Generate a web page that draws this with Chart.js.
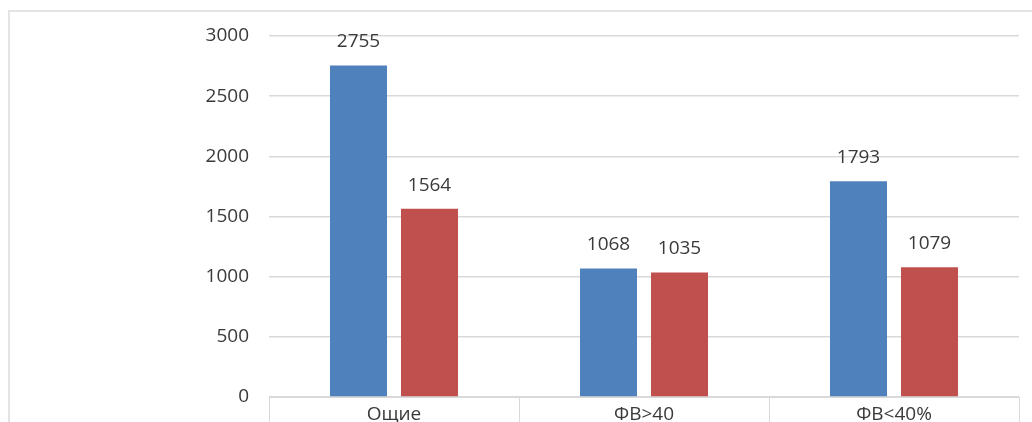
<!DOCTYPE html>
<html>
<head>
<meta charset="utf-8">
<script src="https://cdn.jsdelivr.net/npm/chart.js@4/dist/chart.umd.min.js"></script>
<style>
  html, body { margin: 0; padding: 0; background: #fff; overflow: hidden; }
  #wrap { position: relative; width: 1032px; height: 422px; }
  #frame { position: absolute; left: 8px; top: 10px; width: 1030px; height: 430px;
           border: 2px solid #e3e3e3; box-sizing: border-box; pointer-events: none; }
  canvas { position: absolute; left: 0; top: 0; }
</style>
</head>
<body>
<div id="wrap">
  <canvas id="chart" width="1032" height="422"></canvas>
  <div id="frame"></div>
</div>
<script>
// Categories and the two series
const categories = ['Ощие', 'ФВ>40', 'ФВ<40%'];
const seriesBlue = [2755, 1068, 1793];
const seriesRed = [1564, 1035, 1079];
const yTicks = [0, 500, 1000, 1500, 2000, 2500, 3000];

const FONT = "'Open Sans', 'Noto Sans', sans-serif";

// Writes each bar's value above it
const valueLabels = {
  id: 'valueLabels',
  afterDatasetsDraw(chart) {
    const ctx = chart.ctx;
    ctx.save();
    ctx.font = '19px ' + FONT;
    ctx.fillStyle = '#3a3a3a';
    ctx.textAlign = 'center';
    ctx.textBaseline = 'bottom';
    chart.data.datasets.forEach((ds, i) => {
      chart.getDatasetMeta(i).data.forEach((bar, j) => {
        ctx.fillText(String(ds.data[j]), bar.x, bar.y - 14);
      });
    });
    ctx.restore();
  }
};

new Chart(document.getElementById('chart'), {
  type: 'bar',
  data: {
    labels: categories,
    datasets: [
      { label: 'A', data: seriesBlue, backgroundColor: '#4F81BD' },
      { label: 'B', data: seriesRed, backgroundColor: '#C0504D' }
    ]
  },
  options: {
    responsive: false,
    animation: false,
    events: [],
    categoryPercentage: 0.568,
    barPercentage: 0.803,
    layout: { padding: { top: 36, right: 13, left: 0, bottom: 0 } },
    plugins: { legend: { display: false }, tooltip: { enabled: false } },
    scales: {
      x: {
        offset: true,
        grid: { offset: true, drawOnChartArea: false, drawTicks: true, tickLength: 30, color: '#d9d9d9', lineWidth: 1 },
        border: { display: true, color: '#d9d9d9', width: 1 },
        ticks: { font: { family: FONT, size: 19 }, color: '#3a3a3a', padding: -24 },
        afterFit(scale) { scale.height = 25; scale.paddingLeft = 0; scale.paddingRight = 0; }
      },
      y: {
        min: 0,
        max: 3000,
        afterBuildTicks(scale) { scale.ticks = yTicks.map(v => ({ value: v })); },
        grid: { color: '#d9d9d9', lineWidth: 1.5, drawTicks: false },
        border: { display: false },
        ticks: {
          font: { family: FONT, size: 19 }, color: '#3a3a3a', padding: 20,
          callback: v => String(v)
        },
        afterFit(scale) { scale.width = 269; scale.paddingTop = 0; scale.paddingBottom = 0; }
      }
    }
  },
  plugins: [valueLabels]
});
</script>
</body>
</html>
